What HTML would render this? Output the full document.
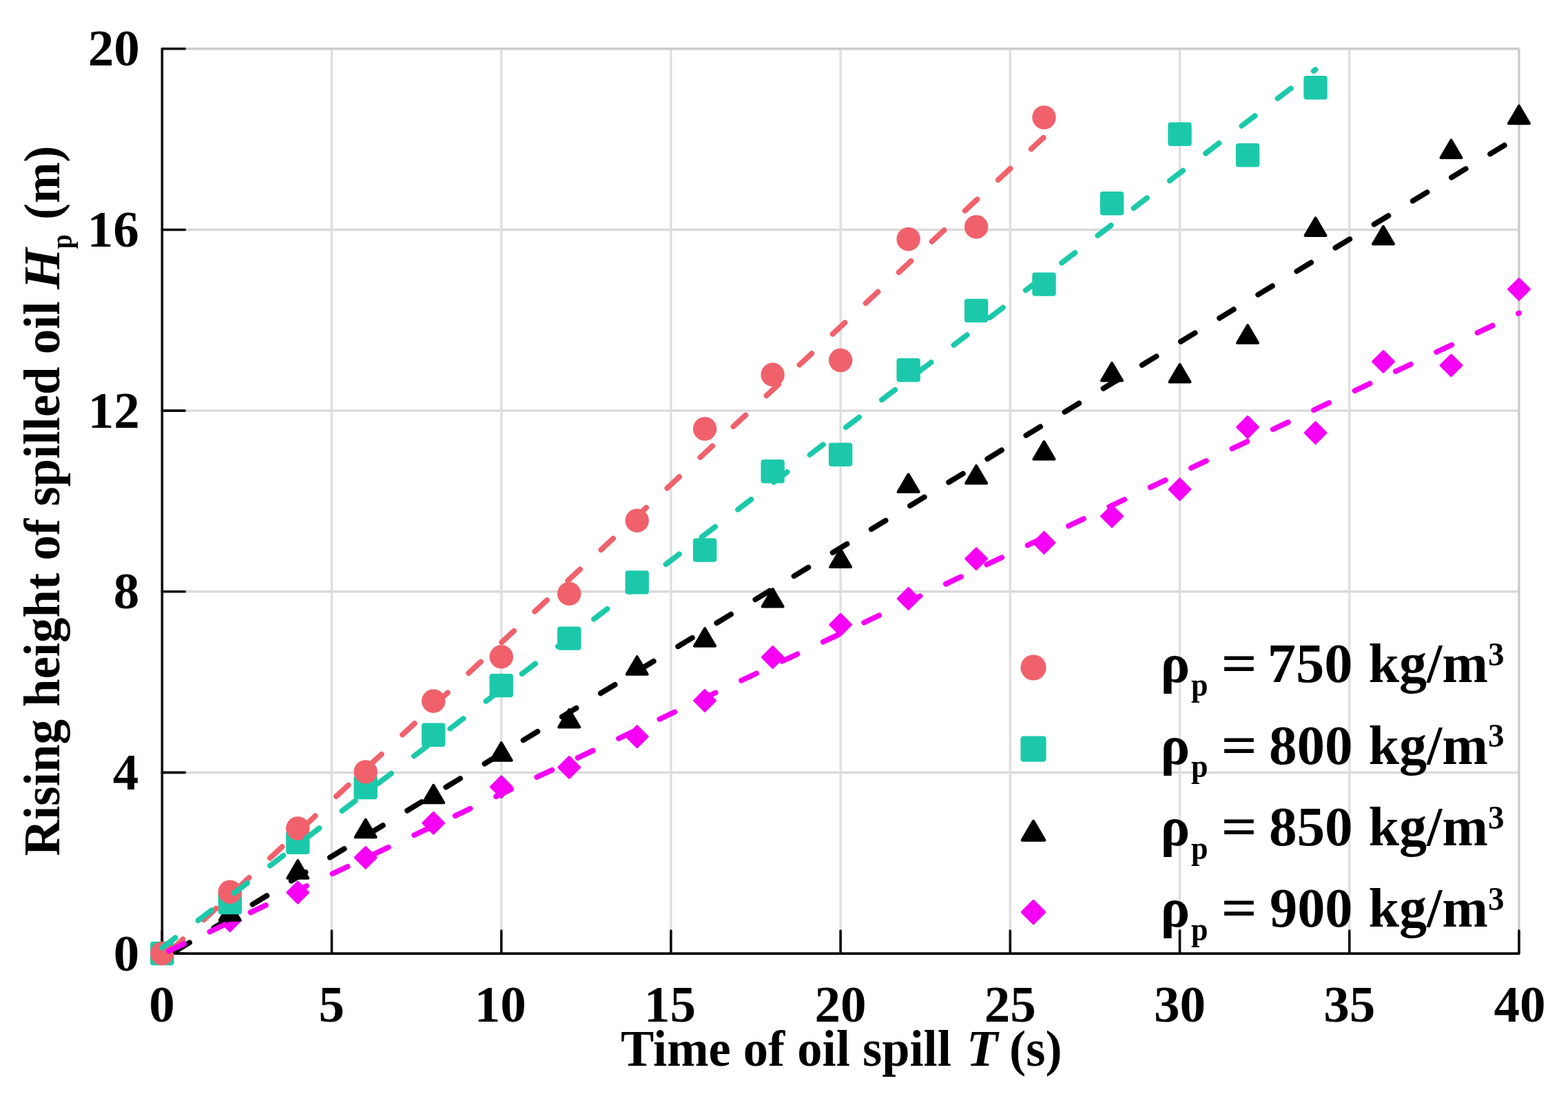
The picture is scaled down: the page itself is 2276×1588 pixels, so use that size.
<!DOCTYPE html>
<html><head><meta charset="utf-8"><title>Rising height of spilled oil</title>
<style>html,body{margin:0;padding:0;background:#fff;}body{width:2276px;height:1588px;overflow:hidden;}svg{display:block;}text{font-family:"Liberation Serif","Times New Roman",serif;font-weight:bold;fill:#000;}</style>
</head><body>
<svg width="2276" height="1588" viewBox="0 0 2276 1588">
<rect width="2276" height="1588" fill="#fff"/>
<g stroke="#d9d9d9" stroke-width="3.4" fill="none">
<line x1="235.3" y1="1121.4" x2="2204.9" y2="1121.4"/>
<line x1="235.3" y1="858.8" x2="2204.9" y2="858.8"/>
<line x1="235.3" y1="596.1" x2="2204.9" y2="596.1"/>
<line x1="235.3" y1="333.5" x2="2204.9" y2="333.5"/>
</g>
<g stroke="#dfdfdf" stroke-width="3.4" fill="none">
<line x1="481.5" y1="1384.1" x2="481.5" y2="70.8"/>
<line x1="727.7" y1="1384.1" x2="727.7" y2="70.8"/>
<line x1="973.9" y1="1384.1" x2="973.9" y2="70.8"/>
<line x1="1220.1" y1="1384.1" x2="1220.1" y2="70.8"/>
<line x1="1466.3" y1="1384.1" x2="1466.3" y2="70.8"/>
<line x1="1712.5" y1="1384.1" x2="1712.5" y2="70.8"/>
<line x1="1958.7" y1="1384.1" x2="1958.7" y2="70.8"/>
</g>
<g stroke="#cbcbcb" stroke-width="3.4" fill="none">
<line x1="235.3" y1="70.8" x2="2204.9" y2="70.8"/>
<line x1="2204.9" y1="1384.1" x2="2204.9" y2="70.8"/>
</g>
<g stroke="#0c0c0c" stroke-width="3.6" fill="none" stroke-linecap="round" stroke-linejoin="round">
<path d="M268.3,70.8 H235.3 V1384.1 H2204.9 V1351.1"/>
<line x1="235.3" y1="1384.1" x2="268.3" y2="1384.1"/>
<line x1="235.3" y1="1121.4" x2="268.3" y2="1121.4"/>
<line x1="235.3" y1="858.8" x2="268.3" y2="858.8"/>
<line x1="235.3" y1="596.1" x2="268.3" y2="596.1"/>
<line x1="235.3" y1="333.5" x2="268.3" y2="333.5"/>
<line x1="235.3" y1="1384.1" x2="235.3" y2="1351.1"/>
<line x1="481.5" y1="1384.1" x2="481.5" y2="1351.1"/>
<line x1="727.7" y1="1384.1" x2="727.7" y2="1351.1"/>
<line x1="973.9" y1="1384.1" x2="973.9" y2="1351.1"/>
<line x1="1220.1" y1="1384.1" x2="1220.1" y2="1351.1"/>
<line x1="1466.3" y1="1384.1" x2="1466.3" y2="1351.1"/>
<line x1="1712.5" y1="1384.1" x2="1712.5" y2="1351.1"/>
<line x1="1958.7" y1="1384.1" x2="1958.7" y2="1351.1"/>
</g>
<text transform="translate(164.80,1408.60)" font-size="75">0</text>
<text transform="translate(163.80,1145.94)" font-size="75">4</text>
<text transform="translate(164.80,883.28)" font-size="75">8</text>
<text transform="translate(127.80,620.62)" font-size="75">12</text>
<text transform="translate(126.80,357.96)" font-size="75">16</text>
<text transform="translate(127.80,95.30)" font-size="75">20</text>
<text transform="translate(216.30,1482.50)" font-size="75">0</text>
<text transform="translate(462.50,1482.50)" font-size="75">5</text>
<text transform="translate(688.70,1482.50)" font-size="75">10</text>
<text transform="translate(934.90,1482.50)" font-size="75">15</text>
<text transform="translate(1182.60,1482.50)" font-size="75">20</text>
<text transform="translate(1428.80,1482.50)" font-size="75">25</text>
<text transform="translate(1675.00,1482.50)" font-size="75">30</text>
<text transform="translate(1921.20,1482.50)" font-size="75">35</text>
<text transform="translate(2168.40,1482.50)" font-size="75">40</text>
<text transform="translate(901.02,1547.00) scale(0.9795,1)" font-size="74">Time of oil spill</text>
<text transform="translate(1403.00,1547.00)" font-size="74" font-style="italic">T</text>
<text transform="translate(1465.06,1547.00) scale(0.9792,1)" font-size="74">(s)</text>
<g transform="translate(85.5,0) rotate(-90)">
<text transform="translate(-1242.48,0.00) scale(0.9841,1)" font-size="74">Rising height of spilled oil</text>
<text transform="translate(-419.93,0.00) scale(1.0400,1)" font-size="74" font-style="italic">H</text>
<text transform="translate(-361.36,18.50) scale(0.8636,1)" font-size="44">p</text>
<text transform="translate(-318.90,0.00) scale(0.9667,1)" font-size="74">(m)</text>
</g>
<g>
<polygon points="235.3,1368.6 250.7,1384.0 235.3,1399.4 219.9,1384.0" fill="#F500F5" stroke="#F500F5" stroke-width="3.0" stroke-linejoin="round"/>
<polygon points="333.8,1320.8 349.2,1336.2 333.8,1351.6 318.4,1336.2" fill="#F500F5" stroke="#F500F5" stroke-width="3.0" stroke-linejoin="round"/>
<polygon points="432.3,1280.1 447.7,1295.5 432.3,1310.9 416.9,1295.5" fill="#F500F5" stroke="#F500F5" stroke-width="3.0" stroke-linejoin="round"/>
<polygon points="530.7,1229.5 546.1,1244.9 530.7,1260.3 515.3,1244.9" fill="#F500F5" stroke="#F500F5" stroke-width="3.0" stroke-linejoin="round"/>
<polygon points="629.2,1179.3 644.6,1194.7 629.2,1210.1 613.8,1194.7" fill="#F500F5" stroke="#F500F5" stroke-width="3.0" stroke-linejoin="round"/>
<polygon points="727.7,1126.9 743.1,1142.3 727.7,1157.7 712.3,1142.3" fill="#F500F5" stroke="#F500F5" stroke-width="3.0" stroke-linejoin="round"/>
<polygon points="826.2,1098.5 841.6,1113.9 826.2,1129.3 810.8,1113.9" fill="#F500F5" stroke="#F500F5" stroke-width="3.0" stroke-linejoin="round"/>
<polygon points="924.7,1053.9 940.1,1069.3 924.7,1084.7 909.3,1069.3" fill="#F500F5" stroke="#F500F5" stroke-width="3.0" stroke-linejoin="round"/>
<polygon points="1023.1,1001.6 1038.5,1017.0 1023.1,1032.4 1007.7,1017.0" fill="#F500F5" stroke="#F500F5" stroke-width="3.0" stroke-linejoin="round"/>
<polygon points="1121.6,938.6 1137.0,954.0 1121.6,969.4 1106.2,954.0" fill="#F500F5" stroke="#F500F5" stroke-width="3.0" stroke-linejoin="round"/>
<polygon points="1220.1,891.3 1235.5,906.7 1220.1,922.1 1204.7,906.7" fill="#F500F5" stroke="#F500F5" stroke-width="3.0" stroke-linejoin="round"/>
<polygon points="1318.6,853.6 1334.0,869.0 1318.6,884.4 1303.2,869.0" fill="#F500F5" stroke="#F500F5" stroke-width="3.0" stroke-linejoin="round"/>
<polygon points="1417.1,795.7 1432.5,811.1 1417.1,826.5 1401.7,811.1" fill="#F500F5" stroke="#F500F5" stroke-width="3.0" stroke-linejoin="round"/>
<polygon points="1515.5,772.4 1530.9,787.8 1515.5,803.2 1500.1,787.8" fill="#F500F5" stroke="#F500F5" stroke-width="3.0" stroke-linejoin="round"/>
<polygon points="1614.0,734.0 1629.4,749.4 1614.0,764.8 1598.6,749.4" fill="#F500F5" stroke="#F500F5" stroke-width="3.0" stroke-linejoin="round"/>
<polygon points="1712.5,694.9 1727.9,710.3 1712.5,725.7 1697.1,710.3" fill="#F500F5" stroke="#F500F5" stroke-width="3.0" stroke-linejoin="round"/>
<polygon points="1811.0,604.6 1826.4,620.0 1811.0,635.4 1795.6,620.0" fill="#F500F5" stroke="#F500F5" stroke-width="3.0" stroke-linejoin="round"/>
<polygon points="1909.5,612.8 1924.9,628.2 1909.5,643.6 1894.1,628.2" fill="#F500F5" stroke="#F500F5" stroke-width="3.0" stroke-linejoin="round"/>
<polygon points="2007.9,509.5 2023.3,524.9 2007.9,540.3 1992.5,524.9" fill="#F500F5" stroke="#F500F5" stroke-width="3.0" stroke-linejoin="round"/>
<polygon points="2106.4,515.0 2121.8,530.4 2106.4,545.8 2091.0,530.4" fill="#F500F5" stroke="#F500F5" stroke-width="3.0" stroke-linejoin="round"/>
<polygon points="2204.9,404.5 2220.3,419.9 2204.9,435.3 2189.5,419.9" fill="#F500F5" stroke="#F500F5" stroke-width="3.0" stroke-linejoin="round"/>
<polygon points="235.3,1371.2 220.3,1396.8 250.3,1396.8" fill="#000000" stroke="#000000" stroke-width="4.0" stroke-linejoin="round"/>
<polygon points="333.8,1310.2 318.8,1335.8 348.8,1335.8" fill="#000000" stroke="#000000" stroke-width="4.0" stroke-linejoin="round"/>
<polygon points="432.3,1249.2 417.3,1274.7 447.3,1274.7" fill="#000000" stroke="#000000" stroke-width="4.0" stroke-linejoin="round"/>
<polygon points="530.7,1189.7 515.7,1215.2 545.7,1215.2" fill="#000000" stroke="#000000" stroke-width="4.0" stroke-linejoin="round"/>
<polygon points="629.2,1139.8 614.2,1165.2 644.2,1165.2" fill="#000000" stroke="#000000" stroke-width="4.0" stroke-linejoin="round"/>
<polygon points="727.7,1078.2 712.7,1103.7 742.7,1103.7" fill="#000000" stroke="#000000" stroke-width="4.0" stroke-linejoin="round"/>
<polygon points="826.2,1030.0 811.2,1055.5 841.2,1055.5" fill="#000000" stroke="#000000" stroke-width="4.0" stroke-linejoin="round"/>
<polygon points="924.7,953.2 909.7,978.8 939.7,978.8" fill="#000000" stroke="#000000" stroke-width="4.0" stroke-linejoin="round"/>
<polygon points="1023.1,912.2 1008.1,937.8 1038.1,937.8" fill="#000000" stroke="#000000" stroke-width="4.0" stroke-linejoin="round"/>
<polygon points="1121.6,855.0 1106.6,880.5 1136.6,880.5" fill="#000000" stroke="#000000" stroke-width="4.0" stroke-linejoin="round"/>
<polygon points="1220.1,797.5 1205.1,823.0 1235.1,823.0" fill="#000000" stroke="#000000" stroke-width="4.0" stroke-linejoin="round"/>
<polygon points="1318.6,688.5 1303.6,714.0 1333.6,714.0" fill="#000000" stroke="#000000" stroke-width="4.0" stroke-linejoin="round"/>
<polygon points="1417.1,676.0 1402.1,701.5 1432.1,701.5" fill="#000000" stroke="#000000" stroke-width="4.0" stroke-linejoin="round"/>
<polygon points="1515.5,641.1 1500.5,666.6 1530.5,666.6" fill="#000000" stroke="#000000" stroke-width="4.0" stroke-linejoin="round"/>
<polygon points="1614.0,527.0 1599.0,552.5 1629.0,552.5" fill="#000000" stroke="#000000" stroke-width="4.0" stroke-linejoin="round"/>
<polygon points="1712.5,529.1 1697.5,554.6 1727.5,554.6" fill="#000000" stroke="#000000" stroke-width="4.0" stroke-linejoin="round"/>
<polygon points="1811.0,472.2 1796.0,497.8 1826.0,497.8" fill="#000000" stroke="#000000" stroke-width="4.0" stroke-linejoin="round"/>
<polygon points="1909.5,316.4 1894.5,341.9 1924.5,341.9" fill="#000000" stroke="#000000" stroke-width="4.0" stroke-linejoin="round"/>
<polygon points="2007.9,328.8 1992.9,354.2 2022.9,354.2" fill="#000000" stroke="#000000" stroke-width="4.0" stroke-linejoin="round"/>
<polygon points="2106.4,203.4 2091.4,228.9 2121.4,228.9" fill="#000000" stroke="#000000" stroke-width="4.0" stroke-linejoin="round"/>
<polygon points="2204.9,153.7 2189.9,179.2 2219.9,179.2" fill="#000000" stroke="#000000" stroke-width="4.0" stroke-linejoin="round"/>
<rect x="218.1" y="1366.8" width="34.4" height="34.4" rx="4.0" fill="#1BC9AA"/>
<rect x="316.6" y="1292.8" width="34.4" height="34.4" rx="4.0" fill="#1BC9AA"/>
<rect x="415.1" y="1205.7" width="34.4" height="34.4" rx="4.0" fill="#1BC9AA"/>
<rect x="513.5" y="1125.8" width="34.4" height="34.4" rx="4.0" fill="#1BC9AA"/>
<rect x="612.0" y="1049.6" width="34.4" height="34.4" rx="4.0" fill="#1BC9AA"/>
<rect x="710.5" y="977.9" width="34.4" height="34.4" rx="4.0" fill="#1BC9AA"/>
<rect x="809.0" y="909.4" width="34.4" height="34.4" rx="4.0" fill="#1BC9AA"/>
<rect x="907.5" y="828.2" width="34.4" height="34.4" rx="4.0" fill="#1BC9AA"/>
<rect x="1005.9" y="781.3" width="34.4" height="34.4" rx="4.0" fill="#1BC9AA"/>
<rect x="1104.4" y="667.0" width="34.4" height="34.4" rx="4.0" fill="#1BC9AA"/>
<rect x="1202.9" y="642.7" width="34.4" height="34.4" rx="4.0" fill="#1BC9AA"/>
<rect x="1301.4" y="520.0" width="34.4" height="34.4" rx="4.0" fill="#1BC9AA"/>
<rect x="1399.9" y="433.7" width="34.4" height="34.4" rx="4.0" fill="#1BC9AA"/>
<rect x="1498.3" y="395.4" width="34.4" height="34.4" rx="4.0" fill="#1BC9AA"/>
<rect x="1596.8" y="278.1" width="34.4" height="34.4" rx="4.0" fill="#1BC9AA"/>
<rect x="1695.3" y="177.6" width="34.4" height="34.4" rx="4.0" fill="#1BC9AA"/>
<rect x="1793.8" y="208.1" width="34.4" height="34.4" rx="4.0" fill="#1BC9AA"/>
<rect x="1892.3" y="110.1" width="34.4" height="34.4" rx="4.0" fill="#1BC9AA"/>
<circle cx="235.3" cy="1384.0" r="17.20" fill="#F0616B"/>
<circle cx="333.8" cy="1294.7" r="17.20" fill="#F0616B"/>
<circle cx="432.3" cy="1202.5" r="17.20" fill="#F0616B"/>
<circle cx="530.7" cy="1120.4" r="17.20" fill="#F0616B"/>
<circle cx="629.2" cy="1017.7" r="17.20" fill="#F0616B"/>
<circle cx="727.7" cy="953.4" r="17.20" fill="#F0616B"/>
<circle cx="826.2" cy="861.9" r="17.20" fill="#F0616B"/>
<circle cx="924.7" cy="755.7" r="17.20" fill="#F0616B"/>
<circle cx="1023.1" cy="622.5" r="17.20" fill="#F0616B"/>
<circle cx="1121.6" cy="543.8" r="17.20" fill="#F0616B"/>
<circle cx="1220.1" cy="523.0" r="17.20" fill="#F0616B"/>
<circle cx="1318.6" cy="347.2" r="17.20" fill="#F0616B"/>
<circle cx="1417.1" cy="329.4" r="17.20" fill="#F0616B"/>
<circle cx="1515.5" cy="170.5" r="17.20" fill="#F0616B"/>
</g>
<line x1="235.3" y1="1391.5" x2="1515.5" y2="199.0" stroke="#F0616B" stroke-width="7.8" stroke-linecap="round" stroke-dasharray="24.3 41.350" stroke-dashoffset="48.60"/>
<line x1="235.3" y1="1392.4" x2="2204.9" y2="198.1" stroke="#000000" stroke-width="7.8" stroke-linecap="round" stroke-dasharray="24.3 41.350" stroke-dashoffset="43.40"/>
<line x1="235.3" y1="1375.9" x2="1909.5" y2="101.1" stroke="#1BC9AA" stroke-width="7.8" stroke-linecap="round" stroke-dasharray="24.3 41.350" stroke-dashoffset="0.00"/>
<line x1="235.3" y1="1385.1" x2="2204.9" y2="454.5" stroke="#F500F5" stroke-width="7.8" stroke-linecap="round" stroke-dasharray="24.3 41.350" stroke-dashoffset="54.85"/>
<circle cx="1500.0" cy="969.0" r="18.58" fill="#F0616B"/>
<text transform="translate(1684.50,990.00)" font-size="80">ρ</text>
<text transform="translate(1729.08,1009.50) scale(0.9167,1)" font-size="48">p</text>
<text transform="translate(1772.41,990.00) scale(1.1486,1)" font-size="80">=</text>
<text transform="translate(1839.84,990.00) scale(1.0312,1)" font-size="80">750</text>
<text transform="translate(1986.50,990.00)" font-size="80">kg/m</text>
<text transform="translate(2160.05,965.50) scale(0.9750,1)" font-size="48">3</text>
<rect x="1481.4" y="1068.6" width="37.2" height="37.2" rx="4.3" fill="#1BC9AA"/>
<text transform="translate(1684.50,1108.50)" font-size="80">ρ</text>
<text transform="translate(1729.08,1128.00) scale(0.9167,1)" font-size="48">p</text>
<text transform="translate(1772.41,1108.50) scale(1.1486,1)" font-size="80">=</text>
<text transform="translate(1841.96,1108.50) scale(1.0132,1)" font-size="80">800</text>
<text transform="translate(1986.50,1108.50)" font-size="80">kg/m</text>
<text transform="translate(2160.05,1084.00) scale(0.9750,1)" font-size="48">3</text>
<polygon points="1500.0,1191.9 1483.8,1219.5 1516.2,1219.5" fill="#000000" stroke="#000000" stroke-width="4.3" stroke-linejoin="round"/>
<text transform="translate(1684.50,1227.00)" font-size="80">ρ</text>
<text transform="translate(1729.08,1246.50) scale(0.9167,1)" font-size="48">p</text>
<text transform="translate(1772.41,1227.00) scale(1.1486,1)" font-size="80">=</text>
<text transform="translate(1841.96,1227.00) scale(1.0132,1)" font-size="80">850</text>
<text transform="translate(1986.50,1227.00)" font-size="80">kg/m</text>
<text transform="translate(2160.05,1202.50) scale(0.9750,1)" font-size="48">3</text>
<polygon points="1500.0,1307.4 1516.6,1324.0 1500.0,1340.6 1483.4,1324.0" fill="#F500F5" stroke="#F500F5" stroke-width="3.2" stroke-linejoin="round"/>
<text transform="translate(1684.50,1345.30)" font-size="80">ρ</text>
<text transform="translate(1729.08,1364.80) scale(0.9167,1)" font-size="48">p</text>
<text transform="translate(1772.41,1345.30) scale(1.1486,1)" font-size="80">=</text>
<text transform="translate(1842.99,1345.30) scale(1.0043,1)" font-size="80">900</text>
<text transform="translate(1986.50,1345.30)" font-size="80">kg/m</text>
<text transform="translate(2160.05,1320.80) scale(0.9750,1)" font-size="48">3</text>
</svg>
</body></html>
